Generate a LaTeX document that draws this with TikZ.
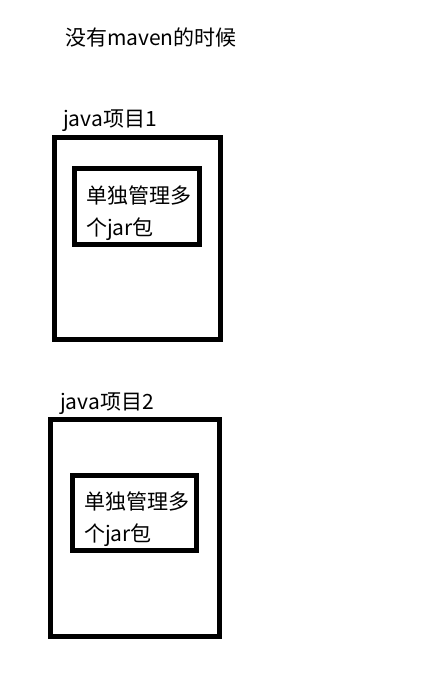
\documentclass[tikz,border=0pt]{standalone}
\usepackage{fontspec}
\newfontfamily\cjk{Noto Sans CJK SC}
\begin{document}
\begin{tikzpicture}[x=1pt,y=-1pt,
  lbl/.style={inner sep=0pt,anchor=base west,font=\cjk\fontsize{21}{25}\selectfont},
  boxline/.style={draw=black,line width=5pt}]
\useasboundingbox[fill=white] (0,0) rectangle (423,678);
\node[lbl] (title) at (65,45) {没有maven的时候};
\node[lbl] (p1) at (63,126) {java项目1};
\draw[boxline] (54.5,137.5) rectangle (220,339.5);
\draw[boxline] (74.5,168.5) rectangle (199.5,244.5);
\node[lbl] (a1) at (86,203) {单独管理多};
\node[lbl] (b1) at (86,235) {个jar包};
\node[lbl] (p2) at (60,409) {java项目2};
\draw[boxline] (50.5,419.5) rectangle (219.5,636.5);
\draw[boxline] (72.5,475.5) rectangle (196.5,550.5);
\node[lbl] (a2) at (84,509) {单独管理多};
\node[lbl] (b2) at (84,541) {个jar包};
\end{tikzpicture}
\end{document}
